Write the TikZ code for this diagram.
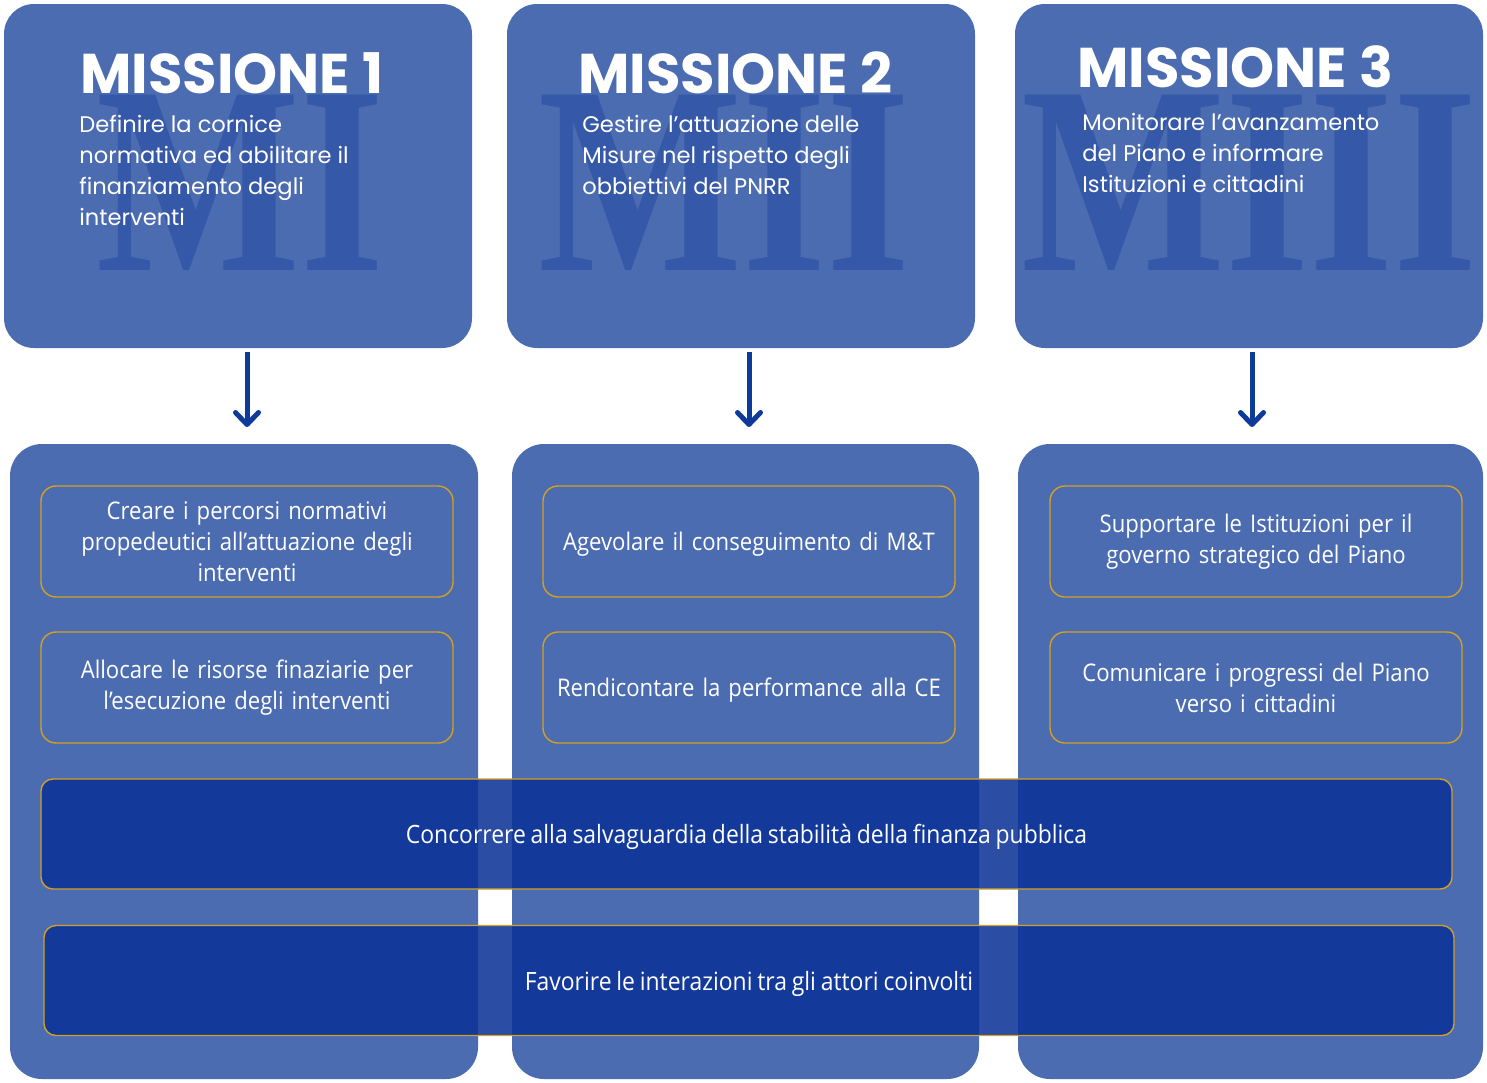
\documentclass[tikz,border=0pt]{standalone}
\usepackage{fontspec}
\setmainfont{Open Sans}
\newfontfamily\popbold{Poppins Bold}
\newfontfamily\popreg{Poppins}
\newfontfamily\boxfont[FakeStretch=0.91, WordSpace=0.8]{Open Sans}
\newfontfamily\romanfont{Liberation Serif}
\usetikzlibrary{arrows.meta}
\definecolor{panel}{HTML}{4B6CB1}
\definecolor{numeral}{HTML}{3558A8}
\definecolor{barblue}{HTML}{0B3297}
\definecolor{gold}{HTML}{D4A024}
\definecolor{arrowblue}{HTML}{0E3A99}
\tikzset{
  x=0.5pt, y=-0.5pt,
  missionbox/.style={draw=none, fill=panel, rounded corners=15pt, minimum width=234pt, minimum height=172pt, inner sep=0pt},
  column/.style={draw=none, fill=panel, rounded corners=16pt, minimum height=317.5pt, inner sep=0pt},
  taskbox/.style={draw=gold, line width=0.7pt, fill=panel, rounded corners=7.5pt, minimum width=206pt, minimum height=55.5pt, text width=200pt, align=center, inner sep=0pt, text=white, font=\boxfont\fontsize{12.15pt}{15.5pt}\selectfont},
  oneline/.style={text depth=0pt},
  sharedbar/.style={draw=gold, line width=0.7pt, fill=barblue, fill opacity=0.87, text opacity=1, rounded corners=6pt, minimum height=55pt, inner sep=0pt, text depth=0pt, text=white, font=\boxfont\fontsize{12.6pt}{15.3pt}\selectfont},
  numeralmark/.style={anchor=base west, inner sep=0pt, text=numeral, font=\romanfont\bfseries\fontsize{108pt}{108pt}\selectfont},
  missiontitle/.style={anchor=base west, inner sep=0pt, text=white, font=\popbold\fontsize{28pt}{28pt}\selectfont},
  missiontext/.style={anchor=base west, inner sep=0pt, align=left, text=white, font=\popreg\fontsize{11.3pt}{15.5pt}\selectfont},
  flowarrow/.style={draw=arrowblue, line width=2.5pt, -{Straight Barb[round, length=6pt, width=11.5pt]}}
}
\begin{document}
\begin{tikzpicture}
\useasboundingbox (0,0) rectangle (1487,1082);

% mission panels
\node[missionbox] (m1) at (238,176) {};
\node[missionbox] (m2) at (741,176) {};
\node[missionbox] (m3) at (1249,176) {};

% roman numerals behind the text
\node[numeralmark] (r1) at (96,270) {\scalebox{1}[1.24]{MI}};
\node[numeralmark] (r2) at (538,270) {\scalebox{1}[1.24]{MII}};
\node[numeralmark] (r3) at (1021,270) {\scalebox{1}[1.24]{MIII}};

% titles and descriptions (anchored at the baseline of the last line)
\node[missiontitle] (t1) at (80,93) {MISSIONE 1};
\node[missiontitle] (t2) at (578,93) {MISSIONE 2};
\node[missiontitle] (t3) at (1077,87) {MISSIONE 3};
\node[missiontext] (d1) at (79,225) {Definire la cornice\\normativa ed abilitare il\\finanziamento degli\\interventi};
\node[missiontext] (d2) at (582,194) {Gestire l’attuazione delle\\Misure nel rispetto degli\\obbiettivi del PNRR};
\node[missiontext] (d3) at (1082,192) {Monitorare l’avanzamento\\del Piano e informare\\Istituzioni e cittadini};

% activity columns
\node[column, minimum width=234pt] (c1) at (244,761.5) {};
\node[column, minimum width=233.5pt] (c2) at (745.5,761.5) {};
\node[column, minimum width=232.5pt] (c3) at (1250.5,761.5) {};

% arrows from missions to columns
\coordinate (a1s) at (247,352);
\coordinate (a1e) at (247,427);
\coordinate (a2s) at (749,352);
\coordinate (a2e) at (749,427);
\coordinate (a3s) at (1252,352);
\coordinate (a3e) at (1252,427);
\draw[flowarrow] (a1s) -- (a1e);
\draw[flowarrow] (a2s) -- (a2e);
\draw[flowarrow] (a3s) -- (a3e);

% tasks of each mission
\node[taskbox] (k11) at (247,541.5) {Creare i percorsi normativi\\propedeutici all’attuazione degli\\interventi};
\node[taskbox] (k12) at (247,687.5) {Allocare le risorse finaziarie per\\l’esecuzione degli interventi};
\node[taskbox, oneline] (k21) at (749,541.5) {Agevolare il conseguimento di M\&T};
\node[taskbox, oneline] (k22) at (749,687.5) {Rendicontare la performance alla CE};
\node[taskbox] (k31) at (1256,541.5) {Supportare le Istituzioni per il\\governo strategico del Piano};
\node[taskbox] (k32) at (1256,687.5) {Comunicare i progressi del Piano\\verso i cittadini};

% shared objectives across all missions
\node[sharedbar, minimum width=705.5pt] (b1) at (746.5,834) {Concorrere alla salvaguardia della stabilità della finanza pubblica};
\node[sharedbar, minimum width=705pt] (b2) at (749,980.5) {Favorire le interazioni tra gli attori coinvolti};
\end{tikzpicture}
\end{document}
